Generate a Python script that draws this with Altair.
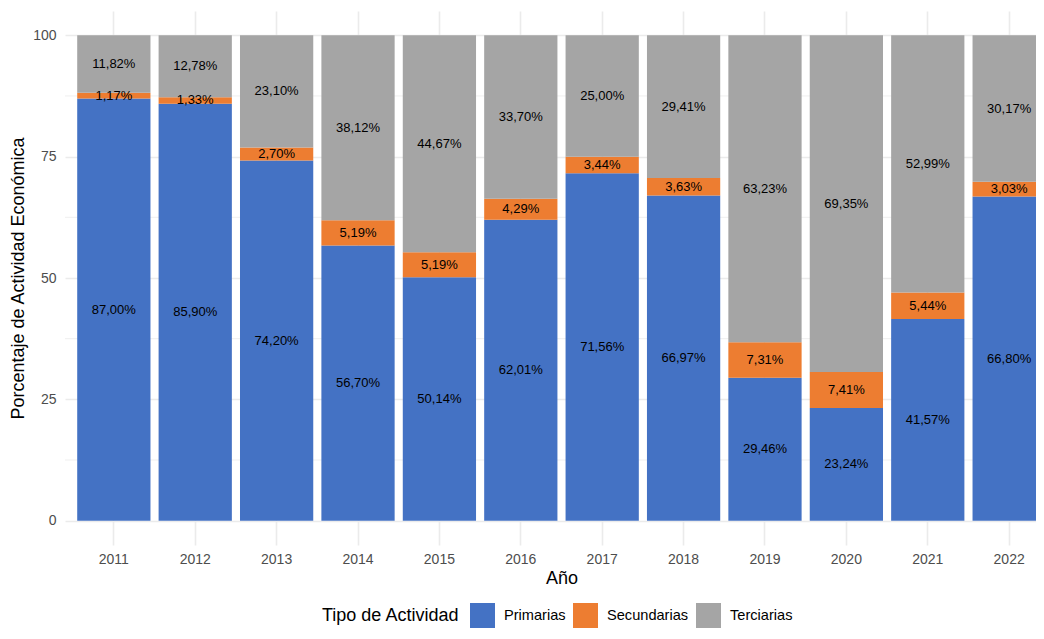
import altair as alt
import pandas as pd

years = ["2011", "2012", "2013", "2014", "2015", "2016", "2017", "2018", "2019", "2020", "2021", "2022"]
primarias = [87.00, 85.90, 74.20, 56.70, 50.14, 62.01, 71.56, 66.97, 29.46, 23.24, 41.57, 66.80]
secundarias = [1.17, 1.33, 2.70, 5.19, 5.19, 4.29, 3.44, 3.63, 7.31, 7.41, 5.44, 3.03]
terciarias = [11.82, 12.78, 23.10, 38.12, 44.67, 33.70, 25.00, 29.41, 63.23, 69.35, 52.99, 30.17]
tipos = ["Primarias", "Secundarias", "Terciarias"]
colores = ["#4472C4", "#ED7D31", "#A5A5A5"]
y_ticks = [0, 25, 50, 75, 100]
y_minor = [12.5, 37.5, 62.5, 87.5]

rows = []
for i, y in enumerate(years):
    for k, (t, vals) in enumerate(zip(tipos, [primarias, secundarias, terciarias])):
        rows.append({"anio": y, "tipo": t, "orden": k, "valor": vals[i]})
df = pd.DataFrame(rows)

FONT = "Liberation Sans"
yscale = alt.Scale(domain=[-5, 105], nice=False, zero=False)
xscale = alt.Scale(domain=years, range=[0, 993], paddingInner=0.1, paddingOuter=0.15)

yaxis = alt.Axis(title="Porcentaje de Actividad Económica", values=y_ticks,
                 domain=False, ticks=False, labelPadding=9, labelFontSize=14,
                 labelColor="#4D4D4D", titleFontSize=18, titleFontWeight="normal",
                 titleColor="black", titleX=-47, titleY=267, titleAlign="center",
                 titleBaseline="middle", titleAngle=270,
                 grid=True, gridColor="#EBEBEB", gridWidth=1.6)
xaxis = alt.Axis(title="Año", labelAngle=0, domain=False, ticks=False,
                 labelPadding=7, labelFontSize=14, labelColor="#4D4D4D",
                 titleFontSize=18, titleFontWeight="normal", titleColor="black",
                 titlePadding=3, titleX=496.5,
                 grid=True, gridColor="#EBEBEB", gridWidth=1.6)

base = alt.Chart(df).transform_stack(
    stack="valor", groupby=["anio"], as_=["y0", "y1"],
    sort=[alt.SortField("orden", order="ascending")]
).transform_calculate(
    mid="(datum.y0 + datum.y1) / 2",
    etiqueta="replace(format(datum.valor, '.2f'), '.', ',') + '%'"
)

bars = base.mark_bar().encode(
    x=alt.X("anio:N", scale=xscale, sort=years, axis=xaxis),
    y=alt.Y("y0:Q", scale=yscale, axis=yaxis),
    y2="y1:Q",
    color=alt.Color("tipo:N", scale=alt.Scale(domain=tipos, range=colores),
                    legend=alt.Legend(title="Tipo de Actividad", orient="none",
                                      legendX=257, legendY=592, direction="horizontal",
                                      titleOrient="left", titleBaseline="middle",
                                      titleFontSize=18, titleFontWeight="normal",
                                      titleColor="black", titlePadding=10,
                                      symbolType="square", symbolSize=625,
                                      symbolStrokeWidth=0, symbolOpacity=1,
                                      labelFontSize=14.6, labelColor="black",
                                      labelOffset=9, columnPadding=7)),
)

labels = base.mark_text(fontSize=13, color="black", align="center", baseline="middle").encode(
    x=alt.X("anio:N", scale=xscale, sort=years, axis=xaxis),
    y=alt.Y("mid:Q", scale=yscale, axis=yaxis),
    text="etiqueta:N",
)

minor = alt.Chart(pd.DataFrame({"v": y_minor})).mark_rule(color="#EBEBEB", strokeWidth=0.8).encode(
    y=alt.Y("v:Q", scale=yscale, axis=yaxis)
)

chart = alt.layer(minor, bars, labels).properties(
    width=971, height=534,
    padding={"left": 57, "top": 3, "right": 0, "bottom": 83},
    autosize=alt.AutoSizeParams(type="none"),
).configure(font=FONT).configure_view(stroke=None)

chart.save("out.html", embed_options={"renderer": "svg", "actions": False})
